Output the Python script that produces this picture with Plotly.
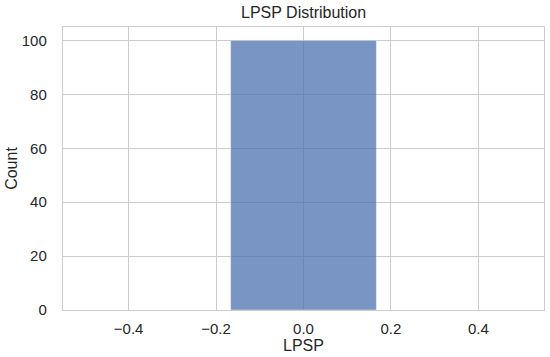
import plotly.graph_objects as go

# Histogram data (one bin containing all values)
bin_edges = [-1/6, 1/6]
counts = [100]
x_ticks = [-0.4, -0.2, 0.0, 0.2, 0.4]
x_tick_labels = ["−0.4", "−0.2", "0.0", "0.2", "0.4"]
y_ticks = [0, 20, 40, 60, 80, 100]

centers = [(bin_edges[i] + bin_edges[i + 1]) / 2 for i in range(len(counts))]
widths = [bin_edges[i + 1] - bin_edges[i] for i in range(len(counts))]

fig = go.Figure(go.Bar(
    x=centers, y=counts, width=widths,
    marker=dict(color="#4C72B0", line=dict(color="white", width=0.4)),
    opacity=0.75,
))

font = dict(family="Liberation Sans, Arial, sans-serif", color="#262626")
axis_common = dict(
    showgrid=True, gridcolor="#cccccc", gridwidth=1.3,
    showline=True, linecolor="#cccccc", linewidth=1.4, mirror=True,
    zeroline=False, ticks="", tickfont=dict(size=15, **font),
    automargin=False,
)
fig.update_layout(
    width=550, height=357,
    margin=dict(l=63, r=6, t=27, b=47),
    plot_bgcolor="white", paper_bgcolor="white",
    showlegend=False,
    title=dict(text="LPSP Distribution", x=0.552, xanchor="center",
               y=1 - 12 / 357, yanchor="middle", yref="container",
               font=dict(size=16, **font)),
    xaxis=dict(range=[-0.55, 0.55], tickvals=x_ticks, ticktext=x_tick_labels,
               title=dict(text="LPSP", font=dict(size=16, **font), standoff=0),
               ticklabelstandoff=5, **axis_common),
    yaxis=dict(range=[0, 105], tickvals=y_ticks,
               title=dict(text="Count", font=dict(size=16, **font), standoff=0),
               ticklabelstandoff=12, **axis_common),
)

fig.write_html("out.html", config={"displayModeBar": False},
               post_script="document.body.style.margin='0';document.body.style.overflow='hidden';")
